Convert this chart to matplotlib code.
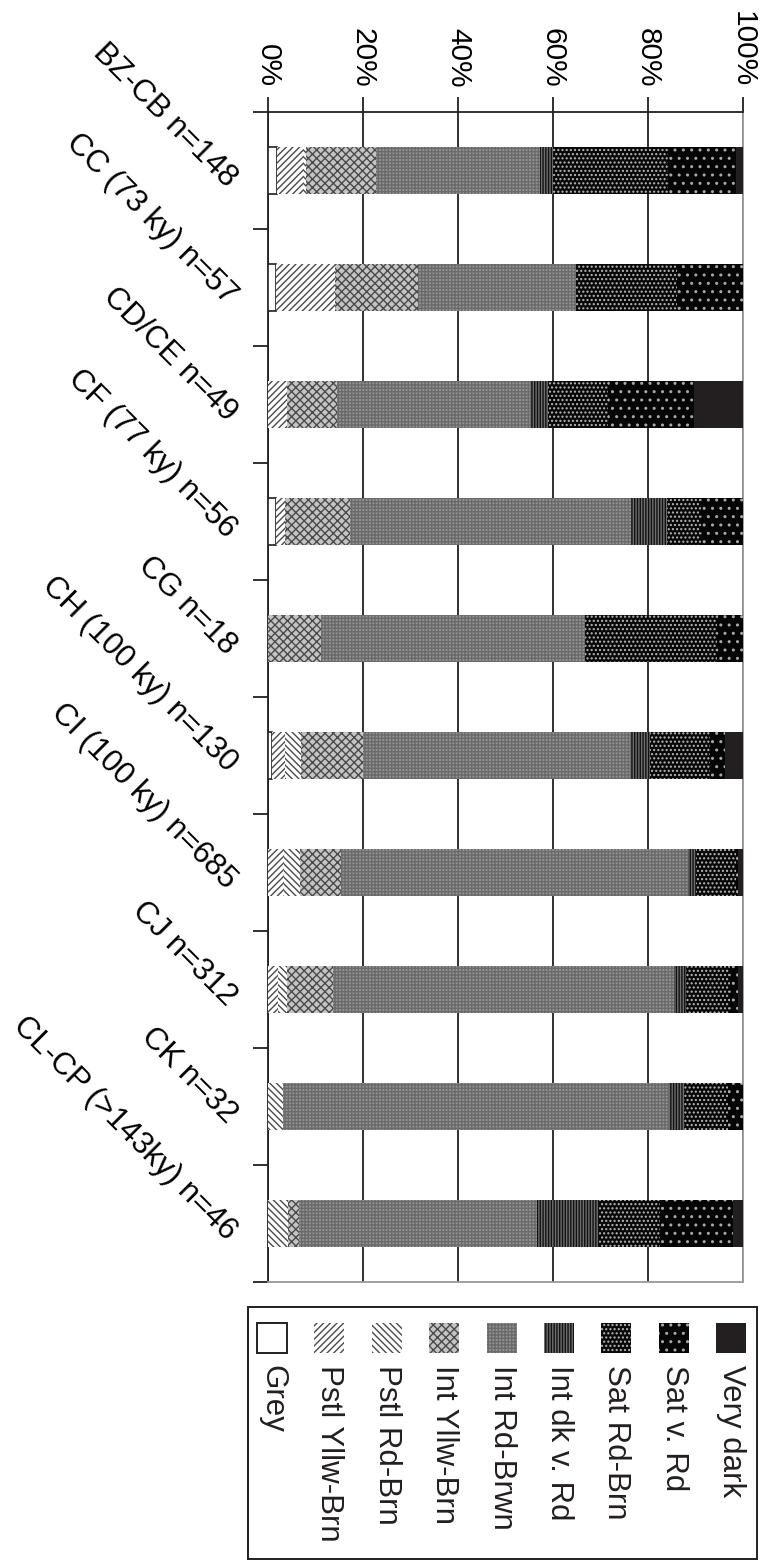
import matplotlib
matplotlib.use("Agg")
import matplotlib.pyplot as plt
from matplotlib.patches import Rectangle
import matplotlib.transforms as mtransforms
import numpy as np

plt.rcParams['font.family'] = ['Liberation Sans', 'DejaVu Sans']
plt.rcParams['hatch.linewidth'] = 1.0

categories = ['BZ-CB n=148', 'CC (73 ky) n=57', 'CD/CE n=49', 'CF (77 ky) n=56',
              'CG n=18', 'CH (100 ky) n=130', 'CI (100 ky) n=685', 'CJ n=312',
              'CK n=32', 'CL-CP (>143ky) n=46']

series_names = ['Grey', 'Pstl Yllw-Brn', 'Pstl Rd-Brn', 'Int Yllw-Brn', 'Int Rd-Brwn',
                'Int dk v. Rd', 'Sat Rd-Brn', 'Sat v. Rd', 'Very dark']

grey          = [1.9, 1.6, 0.0, 1.6, 0.0, 0.8, 0.0, 0.0, 0.0, 0.0]
pstl_yllw_brn = [5.5, 12.4, 3.9, 1.9, 0.0, 2.7, 3.4, 2.0, 0.0, 0.0]
pstl_rd_brn   = [0.7, 0.0, 0.0, 0.0, 0.0, 3.5, 3.4, 1.9, 3.1, 4.3]
int_yllw_brn  = [14.7, 17.6, 10.6, 13.8, 11.1, 12.9, 8.6, 9.7, 0.0, 2.2]
int_rd_brwn   = [34.4, 33.2, 40.7, 59.2, 55.6, 56.4, 73.0, 71.9, 81.3, 50.1]
int_dk_v_rd   = [2.8, 0.0, 3.8, 7.4, 0.0, 4.1, 1.8, 2.6, 3.1, 13.0]
sat_rd_brn    = [24.2, 21.2, 12.6, 7.3, 27.8, 12.6, 8.4, 9.1, 9.4, 13.0]
sat_v_rd      = [14.4, 14.0, 18.1, 8.8, 5.5, 3.2, 0.4, 1.7, 3.1, 15.2]
very_dark     = [1.4, 0.0, 10.3, 0.0, 0.0, 3.8, 1.0, 1.1, 0.0, 2.2]

series_values = [grey, pstl_yllw_brn, pstl_rd_brn, int_yllw_brn, int_rd_brwn,
                 int_dk_v_rd, sat_rd_brn, sat_v_rd, very_dark]

pct_ticks = [0, 20, 40, 60, 80, 100]

# styles: (facecolor, hatch, hatchcolor, edge linewidth)
styles = [
    ('white', None, '#231f20', 1.2),
    ('white', '/////', '#4a4a4a', 0),
    ('white', '\\\\\\\\\\', '#4a4a4a', 0),
    ('#c4c4c4', 'xxxx', '#4a4a4a', 0),
    ('#939393', '+++++', '#6a6a6a', 0),
    ('#6e6e6e', '||||||', '#111111', 0),
    ('#080808', '....', '#b8b8b8', 0),
    ('#050505', '..', '#a8a8a8', 0),
    ('#231f20', None, '#231f20', 0),
]

W, H = 763, 1562
fig = plt.figure(figsize=(W / 100, H / 100), dpi=100)

def px_box(x0, y0, x1, y1):
    return [x0 / W, 1 - y1 / H, (x1 - x0) / W, (y1 - y0) / H]

ax = fig.add_axes(px_box(268, 112, 743, 1282))

y = np.arange(len(categories))
left = np.zeros(len(categories))
for name, vals, (fc, hatch, hc, lw) in zip(series_names, series_values, styles):
    vals = np.array(vals)
    ax.barh(y, vals, left=left, height=0.4, color=fc, edgecolor=hc,
            hatch=hatch, linewidth=lw, zorder=3)
    left = left + vals

ax.set_xlim(0, 100)
ax.set_ylim(len(categories) - 0.5, -0.5)

ax.xaxis.tick_top()
ax.set_xticks(pct_ticks)
ax.set_xticklabels([f'{v}%' for v in pct_ticks])
ax.tick_params(axis='x', which='major', length=10.8, width=1.3, pad=7,
               labelsize=21.5, labelrotation=-90, color='#231f20')
ax.xaxis.grid(True, color='#231f20', linewidth=1.3, zorder=0)
ax.set_axisbelow(True)

ax.set_yticks(y)
ax.set_yticks(np.arange(-0.5, len(categories)), minor=True)
ax.set_yticklabels(categories)
ax.tick_params(axis='y', which='major', length=0, pad=26, labelsize=22.5)
ax.tick_params(axis='y', which='minor', length=10.8, width=1.3, color='#231f20')
offset = mtransforms.ScaledTranslation(0, -0.12, fig.dpi_scale_trans)
for lab in ax.get_yticklabels():
    lab.set_rotation(-45)
    lab.set_rotation_mode('anchor')
    lab.set_ha('right')
    lab.set_va('center')
    lab.set_transform(lab.get_transform() + offset)

for side in ['left', 'top']:
    ax.spines[side].set_color('#231f20')
    ax.spines[side].set_linewidth(1.3)
for side in ['right', 'bottom']:
    ax.spines[side].set_color('#999999')
    ax.spines[side].set_linewidth(1.3)

# legend, drawn manually with vertical text
lx0, ly0, lx1, ly1 = 248, 1307, 757, 1559
lax = fig.add_axes(px_box(lx0, ly0, lx1, ly1))
lax.set_xlim(0, lx1 - lx0)
lax.set_ylim(ly1 - ly0, 0)
lax.axis('off')
lax.add_patch(Rectangle((0, 0), lx1 - lx0, ly1 - ly0, fill=False,
                        edgecolor='#231f20', linewidth=1.4, clip_on=False))
for i, (name, (fc, hatch, hc, lw)) in enumerate(zip(series_names, styles)):
    hx = 9 + i * 57.4
    lax.add_patch(Rectangle((hx, 16), 30, 30, facecolor=fc, edgecolor=hc,
                            hatch=hatch, linewidth=(1.4 if lw else 0)))
    lax.text(hx + 15, 58, name, rotation=-90, ha='center', va='top',
             fontsize=22.5, color='#231f20')

fig.savefig('out.png', dpi=100)
